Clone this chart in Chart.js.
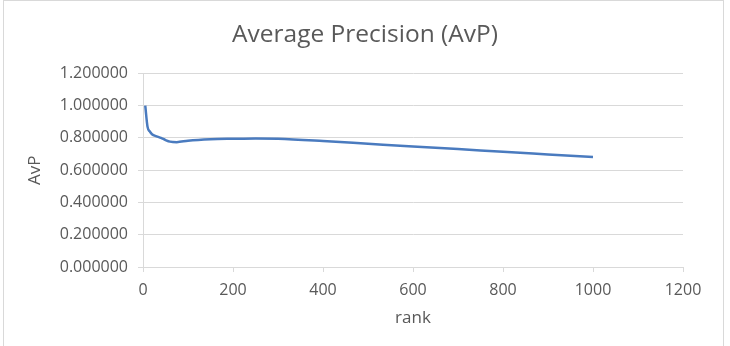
<!DOCTYPE html>
<html>
<head>
<meta charset="utf-8">
<script src="https://cdn.jsdelivr.net/npm/chart.js@4.4.0/dist/chart.umd.min.js"></script>
<style>
  html, body { margin: 0; padding: 0; background: #fff; }
  canvas { display: block; }
</style>
</head>
<body>
<canvas id="avpChart" width="730" height="346"></canvas>
<script>
// data
const ranks = [5, 10, 15, 20, 30, 40, 50, 60, 75, 100, 150, 200, 250, 300, 400, 500, 600, 700, 800, 900, 1000];
const avp = [1.0, 0.87, 0.84, 0.823, 0.81, 0.80, 0.787, 0.777, 0.774, 0.783, 0.792, 0.795, 0.797, 0.795, 0.781, 0.764, 0.747, 0.731, 0.714, 0.698, 0.682];
const yTicks = [0, 0.2, 0.4, 0.6, 0.8, 1.0, 1.2];
const xTicks = [0, 200, 400, 600, 800, 1000, 1200];

const textGray = '#595959';
const gridGray = '#d9d9d9';
const lineBlue = '#4a7bbf';
const fontFamily = '"Open Sans", sans-serif';

// outer frame like the spreadsheet chart box
const framePlugin = {
    id: 'frame',
    beforeDraw(chart) {
        const ctx = chart.ctx;
        ctx.save();
        ctx.fillStyle = '#fff';
        ctx.fillRect(0, 0, chart.width, chart.height);
        ctx.strokeStyle = gridGray;
        ctx.lineWidth = 1;
        ctx.strokeRect(3.5, 0.5, 720, 360);
        ctx.restore();
    }
};

new Chart(document.getElementById('avpChart').getContext('2d'), {
    type: 'line',
    data: {
        datasets: [{
            label: 'AvP',
            data: ranks.map((r, i) => ({ x: r, y: avp[i] })),
            borderColor: lineBlue,
            borderWidth: 2.5,
            pointRadius: 0,
            fill: false,
            cubicInterpolationMode: 'monotone'
        }]
    },
    options: {
        responsive: false,
        animation: false,
        layout: { padding: 0 },
        plugins: {
            legend: { display: false },
            tooltip: { enabled: false },
            title: {
                display: true,
                text: 'Average Precision (AvP)',
                color: textGray,
                font: { family: fontFamily, size: 24.5, weight: 'normal', lineHeight: 1.2 },
                padding: { top: 20, bottom: 24 }
            }
        },
        scales: {
            x: {
                type: 'linear',
                min: 0,
                max: 1200,
                afterBuildTicks(scale) { scale.ticks = xTicks.map(v => ({ value: v })); },
                afterFit(scale) { scale.height = 79; },
                ticks: {
                    color: textGray,
                    font: { family: fontFamily, size: 16 },
                    padding: 9,
                    maxRotation: 0,
                    callback: v => String(v)
                },
                grid: { drawOnChartArea: false, tickLength: 5, tickColor: gridGray },
                border: { color: gridGray },
                title: {
                    display: true,
                    text: 'rank',
                    color: textGray,
                    font: { family: fontFamily, size: 17 },
                    padding: { top: 0, bottom: 18 }
                }
            },
            y: {
                min: 0,
                max: 1.2,
                afterBuildTicks(scale) { scale.ticks = yTicks.map(v => ({ value: v })); },
                afterFit(scale) { scale.width = 143; },
                ticks: {
                    color: textGray,
                    font: { family: fontFamily, size: 16 },
                    padding: 10,
                    callback: v => Number(v).toFixed(6)
                },
                grid: { color: gridGray, tickLength: 5, tickColor: gridGray },
                border: { color: gridGray },
                title: {
                    display: true,
                    text: 'AvP',
                    color: textGray,
                    font: { family: fontFamily, size: 17 },
                    padding: { top: 25, bottom: 0 }
                }
            },
            // empty right gutter so the plot ends where the original does
            gutter: {
                type: 'linear',
                position: 'right',
                display: true,
                afterFit(scale) { scale.width = 47; },
                ticks: { display: false },
                grid: { display: false },
                border: { display: false }
            }
        }
    },
    plugins: [framePlugin]
});
</script>
</body>
</html>
